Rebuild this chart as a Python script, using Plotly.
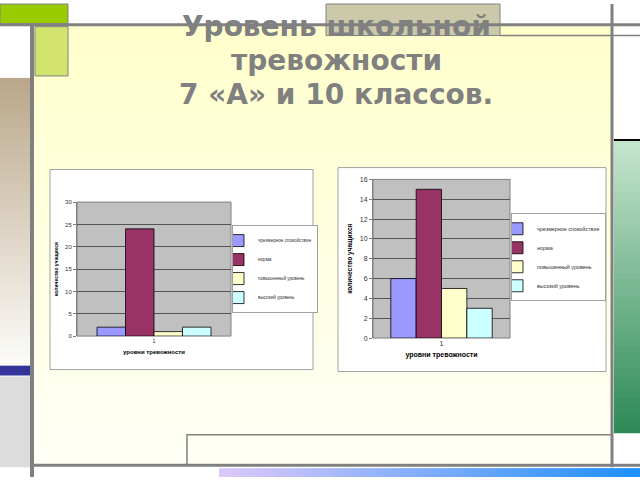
import plotly.graph_objects as go

# ---------------- data ----------------
categories = ["1"]
series_names = ["чрезмерное спокойствие", "норма", "повышенный уровень", "высокий уровень"]
series_colors = ["#9999ff", "#993366", "#ffffcc", "#ccffff"]
values_7a = [2, 24, 1, 2]
values_10 = [6, 15, 5, 3]
y_ticks_7a = [0, 5, 10, 15, 20, 25, 30]
y_ticks_10 = [0, 2, 4, 6, 8, 10, 12, 14, 16]
title_lines = ["Уровень школьной", "тревожности", "7 «А» и 10 классов."]
x_title = "уровни тревожности"
y_title = "количество учащихся"

W, H = 640, 480


def X(px):
    return px / W


def Y(py):
    return 1 - py / H


shapes = []


def rect(x0, y0, x1, y1, fill, line="rgba(0,0,0,0)", lw=0, layer="below"):
    shapes.append(dict(type="rect", xref="paper", yref="paper",
                       x0=X(x0), x1=X(x1), y0=Y(y1), y1=Y(y0),
                       fillcolor=fill, line=dict(color=line, width=lw), layer=layer))


def line(x0, y0, x1, y1, color="#808080", lw=3, layer="below"):
    shapes.append(dict(type="line", xref="paper", yref="paper",
                       x0=X(x0), x1=X(x1), y0=Y(y0), y1=Y(y1),
                       line=dict(color=color, width=lw), layer=layer))


def hex2rgb(h):
    h = h.lstrip("#")
    return tuple(int(h[i:i + 2], 16) for i in (0, 2, 4))


def mix(c0, c1, t):
    a, b = hex2rgb(c0), hex2rgb(c1)
    return "rgb(%d,%d,%d)" % tuple(round(a[i] + (b[i] - a[i]) * t) for i in range(3))


def vgrad(x0, y0, x1, y1, c_top, c_bot, n=40):
    step = (y1 - y0) / n
    for i in range(n):
        rect(x0, y0 + i * step, x1, y0 + (i + 1) * step + 0.6, mix(c_top, c_bot, i / (n - 1)))


def hgrad(x0, y0, x1, y1, c_left, c_right, n=60):
    step = (x1 - x0) / n
    for i in range(n):
        rect(x0 + i * step, y0, x0 + (i + 1) * step + 0.6, y1, mix(c_left, c_right, i / (n - 1)))


# ---------------- slide decoration ----------------
vgrad(33, 22, 612, 468, "#ffffcc", "#fffff6")
rect(0, 0, 68, 20, "#99cc00", "#808080", 1)
rect(35, 23, 68, 73, "#d2e46e", "#808080", 1)
rect(326, 0, 500, 32, "#ccc9aa", "#808080", 1)
vgrad(0, 75, 30, 365, "#bba88b", "#fbfaf7")
rect(0, 367, 30, 377, "#333399")
rect(0, 378, 30, 470, "#dcdcdc")
vgrad(614, 139, 640, 435, "#c4e4cc", "#2e8b57")
line(614, 138, 640, 138, "#000000", 2)
hgrad(219, 471, 640, 480, "#dcc8f8", "#1e90ff")
rect(187, 437, 612, 468, "rgba(0,0,0,0)", "#808080", 1.5)
line(0, 21, 640, 21, "#808080", 3)
line(500, 32, 640, 32, "#808080", 1.5)
line(32, 20, 32, 480, "#808080", 4)
line(612, 0, 612, 470, "#808080", 3)
line(32, 468, 640, 468, "#808080", 3)

# chart frames
rect(50, 168, 313, 371, "#ffffff", "#a0a0a0", 1)
rect(338, 166, 606, 373, "#ffffff", "#a0a0a0", 1)
# plot areas
rect(77, 201, 231, 337, "#c0c0c0", "#808080", 1)
rect(373, 178, 510, 339, "#c0c0c0", "#808080", 1)

# ---------------- figure ----------------
fig = go.Figure()
for name, color, v in zip(series_names, series_colors, values_7a):
    fig.add_trace(go.Bar(x=categories, y=[v], name=name,
                         marker=dict(color=color, line=dict(color="#000000", width=0.8)),
                         xaxis="x", yaxis="y", legend="legend"))
for name, color, v in zip(series_names, series_colors, values_10):
    fig.add_trace(go.Bar(x=categories, y=[v], name=name,
                         marker=dict(color=color, line=dict(color="#000000", width=0.8)),
                         xaxis="x2", yaxis="y2", legend="legend2"))

tickfont_s = dict(family="Liberation Sans", size=6, color="#333333")
tickfont_m = dict(family="Liberation Sans", size=7, color="#333333")

title_centers = [22.5, 57, 91.5]
title_annotations = [
    dict(xref="paper", yref="paper", x=X(336), y=Y(cy), xanchor="center", yanchor="middle",
         text=t, showarrow=False,
         font=dict(family="DejaVu Sans", size=28, color="#808080", weight="bold"))
    for t, cy in zip(title_lines, title_centers)
]

fig.update_layout(
    width=W, height=H, autosize=False,
    margin=dict(l=0, r=0, t=0, b=0),
    paper_bgcolor="#ffffff", plot_bgcolor="rgba(0,0,0,0)",
    barmode="group", bargap=0.26, bargroupgap=0,
    shapes=shapes,
    showlegend=True,
    xaxis=dict(domain=[X(77), X(231)], anchor="y", type="category", showgrid=False,
               tickfont=tickfont_s, ticks="", showline=False,
               title=dict(text="<b>" + x_title + "</b>",
                          font=dict(family="Liberation Sans", size=6, color="#000"), standoff=6)),
    yaxis=dict(domain=[Y(337), Y(201)], anchor="x", range=[0, 30], tickvals=y_ticks_7a,
               showgrid=True, gridcolor="#555555", gridwidth=1, zeroline=False,
               ticks="outside", ticklen=3, tickcolor="#808080", tickfont=tickfont_s,
               showline=True, linecolor="#808080", linewidth=1,
               title=dict(text="<b>" + y_title + "</b>",
                          font=dict(family="Liberation Sans", size=5, color="#000"), standoff=6)),
    xaxis2=dict(domain=[X(373), X(510)], anchor="y2", type="category", showgrid=False,
                tickfont=tickfont_m, ticks="", showline=False,
                title=dict(text="<b>" + x_title + "</b>",
                           font=dict(family="Liberation Sans", size=7, color="#000"), standoff=6)),
    yaxis2=dict(domain=[Y(339), Y(178)], anchor="x2", range=[0, 16], tickvals=y_ticks_10,
                showgrid=True, gridcolor="#555555", gridwidth=1, zeroline=False,
                ticks="outside", ticklen=3, tickcolor="#808080", tickfont=tickfont_m,
                showline=True, linecolor="#808080", linewidth=1,
                title=dict(text="<b>" + y_title + "</b>",
                           font=dict(family="Liberation Sans", size=6.5, color="#000"), standoff=6)),
    legend=dict(x=X(232), y=Y(269), xanchor="left", yanchor="middle",
                bgcolor="#ffffff", bordercolor="#a0a0a0", borderwidth=1,
                font=dict(family="Liberation Sans", size=4.6, color="#333333"),
                itemwidth=30, tracegroupgap=0, indentation=-15),
    legend2=dict(x=X(511), y=Y(257), xanchor="left", yanchor="middle",
                 bgcolor="#ffffff", bordercolor="#a0a0a0", borderwidth=1,
                 font=dict(family="Liberation Sans", size=5.4, color="#333333"),
                 itemwidth=30, tracegroupgap=0, indentation=-15),
    annotations=title_annotations,
)

fig.write_html("out.html", config={"displayModeBar": False},
               post_script="document.body.style.margin='0';document.body.style.overflow='hidden';")
